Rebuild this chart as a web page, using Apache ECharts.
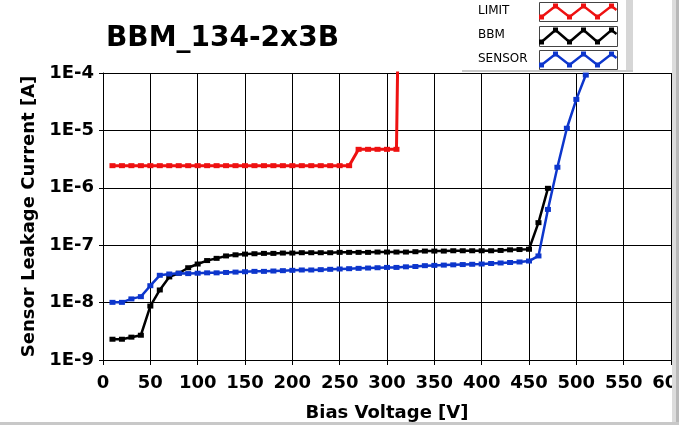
<!DOCTYPE html>
<html>
<head>
<meta charset="utf-8">
<script src="https://cdn.jsdelivr.net/npm/echarts@6/dist/echarts.min.js"></script>
<style>
html,body{margin:0;padding:0;background:#fff;}
#chart{width:679px;height:425px;}
</style>
</head>
<body>
<div id="chart"></div>
<script>
// ---- data ----
const chartTitle = 'BBM_134-2x3B';
const seriesNames = ['LIMIT', 'BBM', 'SENSOR'];
const xTickLabels = ['0','50','100','150','200','250','300','350','400','450','500','550','600'];
const yExponents = [-9, -8, -7, -6, -5, -4];
const yTickLabels = ['1E-9','1E-8','1E-7','1E-6','1E-5','1E-4'];

const limitVoltage = [10,20,30,40,50,60,70,80,90,100,110,120,130,140,150,160,170,180,190,200,210,220,230,240,250,260,270,280,290,300,310,312];
const limitCurrent = [2.43e-6,2.43e-6,2.43e-6,2.43e-6,2.43e-6,2.43e-6,2.43e-6,2.43e-6,2.43e-6,2.43e-6,
  2.43e-6,2.43e-6,2.43e-6,2.43e-6,2.43e-6,2.43e-6,2.43e-6,2.43e-6,2.43e-6,2.43e-6,
  2.43e-6,2.43e-6,2.43e-6,2.43e-6,2.43e-6,2.43e-6,4.68e-6,4.68e-6,4.68e-6,4.68e-6,4.68e-6,1e-3];

const bbmVoltage = [10,20,30,40,50,60,70,80,90,100,110,120,130,140,150,160,170,180,190,200,210,220,230,240,250,260,270,280,290,300,310,320,330,340,350,360,370,380,390,400,410,420,430,440,450,460,470];
const bbmCurrent = [2.3e-9,2.3e-9,2.5e-9,2.7e-9,8.7e-9,1.66e-8,2.8e-8,3.25e-8,4.05e-8,4.7e-8,
  5.4e-8,5.9e-8,6.5e-8,6.8e-8,7.0e-8,7.1e-8,7.2e-8,7.2e-8,7.3e-8,7.3e-8,
  7.4e-8,7.4e-8,7.4e-8,7.4e-8,7.5e-8,7.5e-8,7.5e-8,7.5e-8,7.6e-8,7.6e-8,
  7.6e-8,7.6e-8,7.7e-8,7.9e-8,7.9e-8,7.9e-8,8.0e-8,8.0e-8,8.0e-8,8.0e-8,
  8.0e-8,8.1e-8,8.3e-8,8.4e-8,8.5e-8,2.47e-7,9.8e-7];

const sensorVoltage = [10,20,30,40,50,60,70,80,90,100,110,120,130,140,150,160,170,180,190,200,210,220,230,240,250,260,270,280,290,300,310,320,330,340,350,360,370,380,390,400,410,420,430,440,450,460,470,480,490,500,510];
const sensorCurrent = [1.01e-8,1.01e-8,1.16e-8,1.27e-8,1.97e-8,2.99e-8,3.15e-8,3.24e-8,3.2e-8,3.25e-8,
  3.3e-8,3.3e-8,3.35e-8,3.4e-8,3.45e-8,3.5e-8,3.5e-8,3.55e-8,3.6e-8,3.65e-8,
  3.7e-8,3.7e-8,3.75e-8,3.8e-8,3.85e-8,3.9e-8,3.95e-8,4.0e-8,4.05e-8,4.1e-8,
  4.1e-8,4.2e-8,4.25e-8,4.4e-8,4.45e-8,4.5e-8,4.55e-8,4.6e-8,4.65e-8,4.7e-8,
  4.8e-8,4.9e-8,5.0e-8,5.1e-8,5.3e-8,6.5e-8,4.2e-7,2.28e-6,1.09e-5,3.47e-5,9.2e-5];

const colors = ['#ee1111', '#000000', '#0d36cc'];

// ---- build ----
function pairs(xs, ys, lastNoSymbol) {
  return xs.map((x, i) => {
    const item = { value: [x, ys[i]] };
    if (lastNoSymbol && i === xs.length - 1) item.symbol = 'none';
    return item;
  });
}

const font = 'DejaVu Sans';
const chart = echarts.init(document.getElementById('chart'), null, { renderer: 'canvas' });

// legend decoration (drawn with graphic elements)
const legendGraphics = [];
legendGraphics.push({ type: 'rect', shape: { x: 462, y: 0, width: 171, height: 72 }, style: { fill: '#ffffff' }, z: 10 });
legendGraphics.push({ type: 'rect', shape: { x: 626, y: 0, width: 7, height: 72 }, style: { fill: '#d6d6d6' }, z: 11 });
legendGraphics.push({ type: 'rect', shape: { x: 462, y: 70, width: 171, height: 2 }, style: { fill: '#c8c8c8' }, z: 11 });
const boxTops = [2, 26, 50];
const boxHeights = [19, 20, 19];
const textY = [12, 36, 60];
seriesNames.forEach((name, k) => {
  legendGraphics.push({ type: 'text', left: 478, top: textY[k] - 7,
    style: { text: name, fill: '#000', font: '12px "' + font + '"' }, z: 12 });
  const t = boxTops[k], h = boxHeights[k];
  legendGraphics.push({ type: 'rect', shape: { x: 539.5, y: t + 0.5, width: 78, height: h },
    style: { fill: '#fff', stroke: '#444', lineWidth: 1 }, z: 12 });
  const xs = [541.5, 555.5, 569.5, 583.5, 597.5, 611.5, 616.5];
  const hi = t + 4, lo = t + h - 4;
  const pts = xs.map((x, i) => [x, i === xs.length - 1 ? t + 8 : (i % 2 === 0 ? lo : hi)]);
  legendGraphics.push({ type: 'polyline', shape: { points: pts },
    style: { stroke: colors[k], lineWidth: 2.5, fill: null }, z: 13 });
  pts.slice(0, 6).forEach(p => {
    legendGraphics.push({ type: 'rect', shape: { x: p[0] - 2.5, y: p[1] - 2.5, width: 5, height: 5 },
      style: { fill: colors[k] }, z: 14 });
  });
});
// window edges
legendGraphics.push({ type: 'rect', shape: { x: 672, y: 0, width: 4, height: 425 }, style: { fill: '#dcdcdc' }, z: 20 });
legendGraphics.push({ type: 'rect', shape: { x: 676, y: 0, width: 3, height: 425 }, style: { fill: '#b8b8b8' }, z: 20 });
legendGraphics.push({ type: 'rect', shape: { x: 0, y: 422, width: 679, height: 3 }, style: { fill: '#c8c8c8' }, z: 20 });

const option = {
  animation: false,
  backgroundColor: '#ffffff',
  title: {
    text: chartTitle, left: 106, top: 25, padding: 0,
    textStyle: { fontFamily: font, fontWeight: 'bold', fontSize: 28, color: '#000' }
  },
  grid: { left: 103, right: 8, top: 73, bottom: 65, containLabel: false, outerBoundsMode: 'none' },
  xAxis: {
    type: 'value', min: 0, max: 600, interval: 50,
    name: 'Bias Voltage [V]', nameLocation: 'middle', nameGap: 44,
    nameTextStyle: { fontFamily: font, fontWeight: 'bold', fontSize: 18, color: '#000' },
    axisLine: { show: true, lineStyle: { color: '#000', width: 1 } },
    axisTick: { show: true, length: 5, lineStyle: { color: '#000' } },
    axisLabel: { margin: 14, fontFamily: font, fontWeight: 'bold', fontSize: 18, color: '#000',
      formatter: (v) => xTickLabels[Math.round(v / 50)] },
    splitLine: { show: true, lineStyle: { color: '#000', width: 1 } }
  },
  yAxis: {
    type: 'log', logBase: 10, min: 1e-9, max: 1e-4,
    name: 'Sensor Leakage Current [A]', nameLocation: 'middle', nameGap: 57,
    nameTextStyle: { fontFamily: font, fontWeight: 'bold', fontSize: 18, color: '#000' },
    axisLine: { show: true, lineStyle: { color: '#000', width: 1 } },
    axisTick: { show: true, length: 4, lineStyle: { color: '#000' } },
    axisLabel: { margin: 9, fontFamily: font, fontWeight: 'bold', fontSize: 18, color: '#000',
      formatter: (v) => yTickLabels[yExponents.indexOf(Math.round(Math.log10(v)))] },
    splitLine: { show: true, lineStyle: { color: '#000', width: 1 } },
    minorTick: { show: false }
  },
  series: [
    { name: seriesNames[0], type: 'line', data: pairs(limitVoltage, limitCurrent, true),
      symbol: 'rect', symbolSize: [6, 5], clip: true,
      lineStyle: { color: colors[0], width: 3 }, itemStyle: { color: colors[0] }, z: 3 },
    { name: seriesNames[1], type: 'line', data: pairs(bbmVoltage, bbmCurrent, false),
      symbol: 'rect', symbolSize: [6, 5], clip: true,
      lineStyle: { color: colors[1], width: 2.5 }, itemStyle: { color: colors[1] }, z: 4 },
    { name: seriesNames[2], type: 'line', data: pairs(sensorVoltage, sensorCurrent, false),
      symbol: 'rect', symbolSize: [6, 5], clip: true,
      lineStyle: { color: colors[2], width: 2.5 }, itemStyle: { color: colors[2] }, z: 5 }
  ],
  graphic: legendGraphics
};
chart.setOption(option);
</script>
</body>
</html>
